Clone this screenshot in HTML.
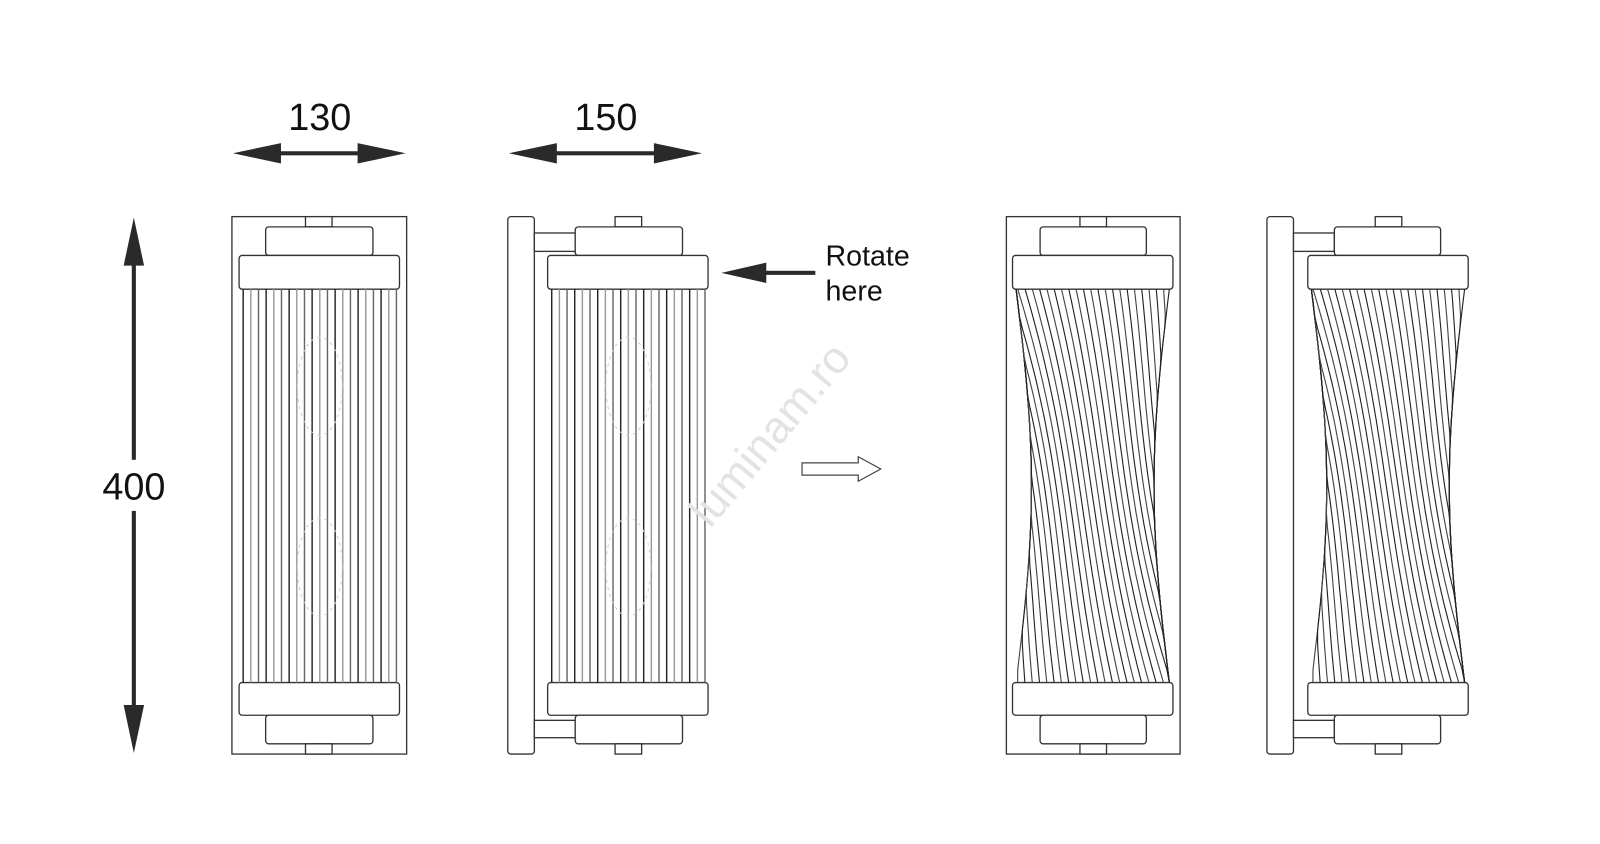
<!DOCTYPE html>
<html><head><meta charset="utf-8"><style>
html,body{margin:0;padding:0;background:#fff;width:1600px;height:844px;overflow:hidden}
svg{display:block}
text{font-family:"Liberation Sans",sans-serif;fill:#111}
</style></head><body>
<svg id="s" width="1600" height="844" viewBox="0 0 1566 826" xmlns="http://www.w3.org/2000/svg">
<g fill="#fff" stroke="#333" stroke-width="1.3">
<rect x="227" y="212" width="171" height="526"/>
<rect x="299" y="212" width="26" height="10"/><rect x="260" y="222" width="105" height="28" rx="3"/>
<rect x="234" y="250" width="157" height="33" rx="3"/>
<rect x="234" y="668" width="157" height="32" rx="3"/>
<rect x="260" y="700" width="105" height="28" rx="3"/><rect x="299" y="728" width="26" height="10"/>
<rect x="497" y="212" width="26" height="526" rx="3"/>
<rect x="523" y="228" width="40" height="18"/><rect x="523" y="705" width="40" height="17"/>
<rect x="602" y="212" width="26" height="10"/><rect x="563" y="222" width="105" height="28" rx="3"/>
<rect x="536" y="250" width="157" height="33" rx="3"/>
<rect x="536" y="668" width="157" height="32" rx="3"/>
<rect x="563" y="700" width="105" height="28" rx="3"/><rect x="602" y="728" width="26" height="10"/>
<rect x="985" y="212" width="170" height="526"/>
<rect x="1057" y="212" width="26" height="10"/><rect x="1018" y="222" width="104" height="28" rx="3"/>
<rect x="991" y="250" width="157" height="33" rx="3"/>
<rect x="991" y="668" width="157" height="32" rx="3"/>
<rect x="1018" y="700" width="104" height="28" rx="3"/><rect x="1057" y="728" width="26" height="10"/>
<rect x="1240" y="212" width="26" height="526" rx="3"/>
<rect x="1266" y="228" width="40" height="18"/><rect x="1266" y="705" width="40" height="17"/>
<rect x="1346" y="212" width="26" height="10"/><rect x="1306" y="222" width="104" height="28" rx="3"/>
<rect x="1280" y="250" width="157" height="33" rx="3"/>
<rect x="1280" y="668" width="157" height="32" rx="3"/>
<rect x="1306" y="700" width="104" height="28" rx="3"/><rect x="1346" y="728" width="26" height="10"/>
</g>
<g id="rods" fill="none"></g>
<g fill="#2a2a2a" stroke="none">
<rect x="270" y="148" width="86" height="4"/>
<polygon points="228,150 275,140 275,160"/><polygon points="397,150 350,140 350,160"/>
<rect x="540" y="148" width="105" height="4"/>
<polygon points="498,150 545,140 545,160"/><polygon points="687,150 640,140 640,160"/>
<rect x="129" y="255" width="4" height="195"/><rect x="129" y="500" width="4" height="195"/>
<polygon points="131,213 121,260 141,260"/><polygon points="131,737 121,690 141,690"/>
<rect x="745" y="265" width="53" height="4"/>
<polygon points="706,267 750,257 750,277"/>
</g>
<text x="313" y="127" font-size="37" text-anchor="middle">130</text>
<text x="593" y="127" font-size="37" text-anchor="middle">150</text>
<text x="131" y="489" font-size="37" text-anchor="middle">400</text>
<text x="808" y="260" font-size="28">Rotate</text>
<text x="808" y="294" font-size="28">here</text>
<polygon points="785,453 840,453 840,447 862,459 840,471 840,465 785,465" fill="#fff" stroke="#444" stroke-width="1.2"/>
<text x="0" y="0" font-size="44" style="fill:#e3e3e3" transform="translate(695,518) rotate(-50)">luminam.ro</text>
</svg>
<script>
var g=document.getElementById('rods'),NS='http://www.w3.org/2000/svg';
function ln(x1,y1,x2,y2,c,w){var l=document.createElementNS(NS,'line');l.setAttribute('x1',x1);l.setAttribute('y1',y1);l.setAttribute('x2',x2);l.setAttribute('y2',y2);l.setAttribute('stroke',c);l.setAttribute('stroke-width',w);g.appendChild(l);}
[[238,388],[540,690]].forEach(function(r){
  var n=21;for(var i=0;i<n;i++){var x=r[0]+(r[1]-r[0])*i/(n-1);var c=(i%3==0)?'#222':(i%3==1?'#999':'#666');ln(x,283,x,668,c,1.4);}
  var cx=(r[0]+r[1])/2;
  [[378,48],[555,48]].forEach(function(b){var e=document.createElementNS(NS,'ellipse');e.setAttribute('cx',cx);e.setAttribute('cy',b[0]);e.setAttribute('rx',22);e.setAttribute('ry',b[1]);e.setAttribute('stroke','#ccc');e.setAttribute('stroke-dasharray','3 4');e.setAttribute('fill','none');g.appendChild(e);});
});
[[1069.5,75],[1358.5,75]].forEach(function(p){
  var cx=p[0],R=p[1],delta=0.95,n=32;
  for(var i=0;i<n;i++){
    var s0=-1-delta+(2+delta)*i/(n-1)+0.02;
    var pts=[];
    for(var k=0;k<=30;k++){
      var y=283+385*k/30;
      var hw=R-15*Math.sin(Math.PI*k/30);
      var s=s0+delta*k/30; if(s<-1)s=-1; if(s>1)s=1;
      pts.push((cx+hw*s).toFixed(1)+','+y.toFixed(1));
    }
    var pl=document.createElementNS(NS,'polyline');pl.setAttribute('points',pts.join(' '));
    pl.setAttribute('stroke',i%2?'#222':'#444');pl.setAttribute('stroke-width','1.1');g.appendChild(pl);
  }
});
</script>
</body></html>
